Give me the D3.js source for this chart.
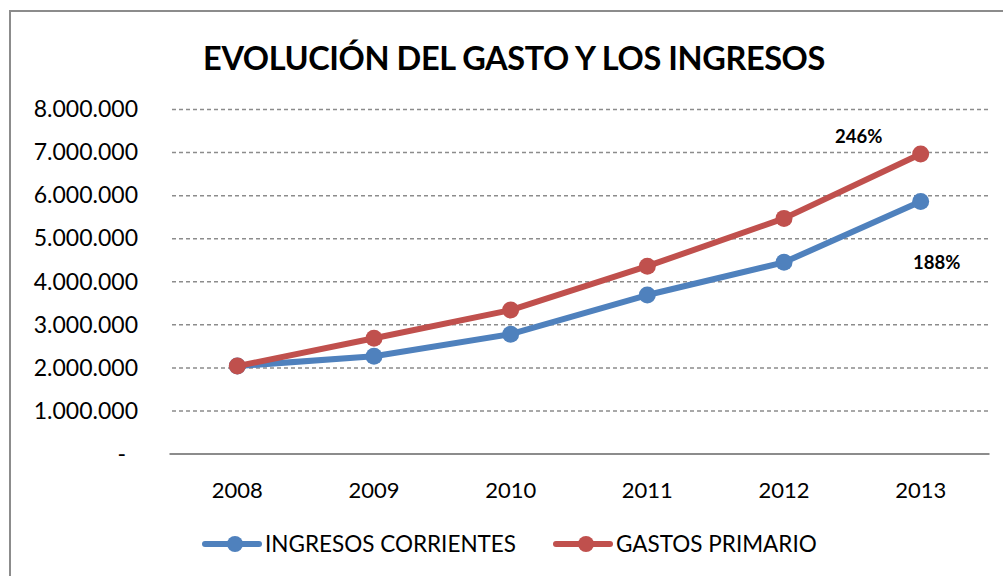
<!DOCTYPE html>
<html>
<head>
<meta charset="utf-8">
<script src="https://cdn.jsdelivr.net/npm/d3@7"></script>
<style>
  body { margin: 0; background: #fff; }
  svg { font-family: Lato, "Open Sans", sans-serif; }
  .grid line { stroke: #8c8c8c; stroke-width: 1.5; stroke-dasharray: 4 3; }
  .grid path { display: none; }
</style>
</head>
<body>
<div id="chart"></div>
<script>
var years = ["2008", "2009", "2010", "2011", "2012", "2013"];
var ingresos = [2030000, 2260000, 2770000, 3680000, 4440000, 5850000];
var gastos = [2030000, 2675000, 3330000, 4350000, 5460000, 6955000];
var seriesNames = ["INGRESOS CORRIENTES", "GASTOS PRIMARIO"];
var seriesColors = ["#4f81bd", "#c0504d"];
var growthLabels = ["188%", "246%"];
var yTicks = [0, 1000000, 2000000, 3000000, 4000000, 5000000, 6000000, 7000000, 8000000];

var W = 1003, H = 576;
var margin = { top: 109, right: 14, bottom: 122.5, left: 169 };
var width = W - margin.left - margin.right,
  height = H - margin.top - margin.bottom;

var svg = d3
  .select("#chart")
  .append("svg")
  .attr("width", W)
  .attr("height", H);

// chart frame
svg
  .append("rect")
  .attr("x", 10)
  .attr("y", 11)
  .attr("width", W + 20)
  .attr("height", H + 20)
  .attr("fill", "none")
  .attr("stroke", "#8c8c8c")
  .attr("stroke-width", 2);

svg
  .append("text")
  .attr("x", 514)
  .attr("y", 70)
  .attr("text-anchor", "middle")
  .style("font-size", "32.5px")
  .style("font-weight", "bold")
  .style("letter-spacing", "-0.4px")
  .text("EVOLUCIÓN DEL GASTO Y LOS INGRESOS");

var g = svg
  .append("g")
  .attr("transform", "translate(" + margin.left + "," + margin.top + ")");

var x = d3.scaleBand().domain(years).range([0, width]);
var y = d3.scaleLinear().domain([0, 8000000]).range([height, 0]);

var fmt = function (d) {
  return d === 0 ? "-" : d3.format(",")(d).replace(/,/g, ".");
};

// gridlines
g.append("g")
  .attr("class", "grid")
  .call(d3.axisLeft(y).tickValues(yTicks.slice(1)).tickSize(-width).tickFormat(""))
  .call((s) => s.selectAll("line").attr("x1", 3).attr("x2", width));

// y labels
g.selectAll(".ylab")
  .data(yTicks)
  .enter()
  .append("text")
  .attr("class", "ylab")
  .attr("x", (d) => (d === 0 ? -43 : -31))
  .attr("y", (d) => y(d))
  .attr("dy", "0.36em")
  .attr("text-anchor", "end")
  .style("font-size", "23px")
  .style("fill", "#000")
  .text(fmt);

// x axis
var xAxis = g
  .append("g")
  .attr("transform", "translate(0," + height + ")")
  .call(d3.axisBottom(x).tickSize(0).tickPadding(29));
xAxis.select(".domain").attr("stroke", "#8c8c8c").attr("stroke-width", 2);
xAxis
  .selectAll("text")
  .style("font-size", "22px")
  .style("font-family", "Lato, sans-serif")
  .style("fill", "#000");

var line = d3
  .line()
  .x((d, i) => x(years[i]) + x.bandwidth() / 2)
  .y((d) => y(d));

var data = [ingresos, gastos];
data.forEach(function (vals, k) {
  g.append("path")
    .datum(vals)
    .attr("fill", "none")
    .attr("stroke", seriesColors[k])
    .attr("stroke-width", 6)
    .attr("stroke-linejoin", "round")
    .attr("d", line);

  g.selectAll(".pt" + k)
    .data(vals)
    .enter()
    .append("circle")
    .attr("class", "pt" + k)
    .attr("cx", (d, i) => x(years[i]) + x.bandwidth() / 2)
    .attr("cy", (d) => y(d))
    .attr("r", 8.5)
    .attr("fill", seriesColors[k]);
});

// growth labels near the last point
var last = years.length - 1;
g.append("text")
  .attr("x", x(years[last]) + x.bandwidth() / 2 + 16)
  .attr("y", y(ingresos[last]) + 67)
  .attr("text-anchor", "middle")
  .style("font-size", "18.5px")
  .style("font-weight", "bold")
  .text(growthLabels[0]);

g.append("text")
  .attr("x", x(years[last]) + x.bandwidth() / 2 - 62)
  .attr("y", y(gastos[last]) - 11)
  .attr("text-anchor", "middle")
  .style("font-size", "18.5px")
  .style("font-weight", "bold")
  .text(growthLabels[1]);

// legend
var legendX = [205, 556];
var legend = svg
  .selectAll(".legend")
  .data(seriesNames)
  .enter()
  .append("g")
  .attr("class", "legend")
  .attr("transform", (d, i) => "translate(" + legendX[i] + ",544)");

legend
  .append("line")
  .attr("x1", 0)
  .attr("x2", 54)
  .attr("stroke", (d, i) => seriesColors[i])
  .attr("stroke-width", 6)
  .attr("stroke-linecap", "round");

legend
  .append("circle")
  .attr("cx", 30)
  .attr("r", 8)
  .attr("fill", (d, i) => seriesColors[i]);

legend
  .append("text")
  .attr("x", 60)
  .attr("dy", "0.36em")
  .style("font-size", "22.5px")
  .text((d) => d);
</script>
</body>
</html>
